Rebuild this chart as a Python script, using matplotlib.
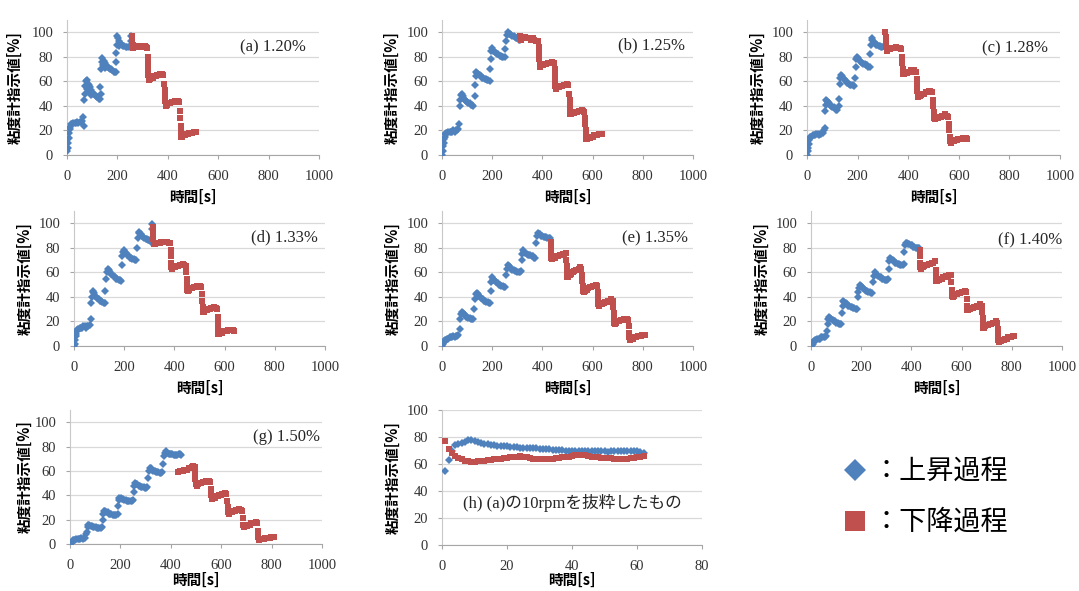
import matplotlib
matplotlib.use('Agg')
import matplotlib.pyplot as plt

# ---- data: (time [s], reading [%]) ----
a_up = [(0,3),(3,6),(5,10),(7,14),(9,18),(11,21),(13,23),(16,25),(20,25),(25,26),(30,26),(35,26),(40,27),(45,26),(50,27),(55,27),(60,28),(63,31),(66,24),
        (68,45),(70,50),(72,56),(75,60),(78,61),(80,54),(82,58),(86,57),(88,52),(90,55),(95,53),(96,49),(100,51),(105,50),(110,49),(115,48),(120,47),(125,46),(130,46),(132,55),(134,50),
        (136,70),(138,76),(140,79),(142,73),(145,77),(150,75),(150,71),(155,73),(160,72),(165,71),(170,70),(175,70),(180,69),(185,68),(190,68),(195,68),
        (193,76),(195,83),(198,90),(200,97),(203,95),(205,89),(207,93),(212,91),(217,90),(222,89),(228,89),(234,88),(240,88),(246,88),(250,89),(252,93),(255,97)]
a_dn = [(258,97),(259,93),(260,90),(262,87),(266,88),(272,89),(278,88),(284,88),(290,89),(296,88),(302,88),(308,89),(314,88),(318,87),
        (320,80),(321,75),(322,70),(323,65),(324,61),(328,62),(334,63),(340,63),(346,64),(352,64),(358,65),(364,65),(370,66),(376,66),(382,65),
        (386,58),(387,53),(388,48),(389,44),(392,40),(398,41),(404,42),(410,42),(416,43),(422,43),(428,44),(434,44),(440,44),(446,43),
        (449,36),(450,30),(451,24),(452,19),(453,15),(456,15),(462,16),(468,16),(474,17),(480,17),(486,18),(492,18),(498,18),(504,19),(510,19)]

b_up = [(0,0),(2,3),(4,7),(6,10),(8,13),(10,15),(12,17),(15,18),(20,18),(25,19),(30,19),(35,19),(40,19),(45,20),(50,19),(55,20),(60,20),(65,21),(68,25),
        (70,40),(72,45),(75,49),(78,50),(82,48),(86,46),(90,45),(95,44),(100,43),(105,42),(110,42),(115,41),(120,41),(125,40),(130,48),(132,57),
        (134,64),(136,68),(140,67),(145,66),(150,65),(155,64),(160,63),(165,63),(170,62),(175,62),(180,61),(185,61),(190,60),(193,70),(195,78),
        (197,85),(200,87),(205,85),(210,84),(215,83),(220,82),(225,82),(230,81),(235,81),(240,80),(245,80),(250,80),(252,86),(255,93),
        (258,98),(262,100),(266,99),(270,99),(275,98),(280,97),(285,97),(290,96),(295,95),(300,95),(305,94),(310,94)]
b_dn = [(312,97),(314,94),(318,95),(325,96),(332,96),(340,95),(347,95),(354,94),(361,95),(368,94),(375,93),(382,93),
        (386,88),(387,83),(388,78),(389,74),(392,72),(398,73),(404,73),(410,74),(416,74),(422,75),(428,75),(434,75),(440,76),(446,75),
        (449,70),(450,65),(451,60),(452,56),(455,54),(461,55),(467,55),(473,56),(479,56),(485,57),(491,57),(497,58),(503,57),
        (507,50),(508,45),(509,40),(510,36),(511,33),(514,33),(520,34),(526,34),(532,35),(538,35),(544,36),(550,36),(556,37),(562,36),(567,35),
        (570,30),(571,25),(572,20),(573,16),(574,13),(577,13),(583,14),(589,14),(595,15),(601,15),(607,16),(613,16),(619,16),(625,17),(631,17),(637,17)]

c_up = [(0,0),(2,3),(4,6),(6,9),(8,12),(10,14),(13,15),(17,15),(22,16),(27,16),(32,16),(37,17),(42,17),(47,16),(52,17),(57,17),(62,18),(66,20),(70,22),
        (72,36),(74,41),(77,45),(80,44),(84,43),(88,42),(92,41),(96,40),(100,39),(105,39),(110,38),(115,37),(120,37),(125,40),(128,46),
        (130,58),(132,63),(135,65),(140,64),(145,62),(150,61),(155,60),(160,59),(165,58),(170,57),(175,57),(180,57),(185,56),(190,63),
        (192,72),(195,78),(198,80),(203,79),(208,77),(213,76),(218,75),(223,74),(228,74),(233,73),(238,73),(243,72),(248,72),(250,82),
        (252,90),(255,95),(258,94),(263,92),(268,91),(273,90),(278,90),(283,89),(288,89),(293,88),(298,88),(303,89),(308,88)]
c_dn = [(310,100),(311,96),(312,92),(313,88),(315,85),(321,86),(327,86),(333,87),(339,87),(345,87),(351,88),(357,87),(363,87),(369,87),(373,86),
        (376,80),(377,75),(378,70),(379,66),(382,66),(388,67),(394,67),(400,68),(406,68),(412,69),(418,69),(424,69),(430,68),
        (434,62),(435,57),(436,52),(437,48),(440,47),(446,48),(452,49),(458,50),(464,50),(470,51),(476,51),(482,52),(488,52),(494,51),
        (498,45),(499,40),(500,35),(501,30),(504,29),(510,30),(516,30),(522,31),(528,31),(534,32),(540,32),(546,33),(552,32),(558,31),
        (562,25),(563,20),(564,15),(565,11),(568,10),(574,11),(580,11),(586,12),(592,12),(598,13),(604,13),(610,13),(616,14),(622,14),(628,14),(634,13)]

d_up = [(0,0),(2,2),(4,5),(6,8),(8,10),(10,12),(13,13),(17,14),(22,15),(27,15),(32,15),(37,16),(42,16),(47,15),(52,16),(57,16),(62,17),(66,22),
        (68,35),(71,40),(74,44),(77,45),(81,43),(85,41),(89,40),(93,39),(98,38),(103,37),(108,37),(113,36),(118,35),(122,35),(125,45),
        (128,55),(131,60),(134,63),(138,62),(143,60),(148,59),(153,58),(158,57),(163,56),(168,55),(173,55),(178,54),(183,54),(188,53),(190,66),
        (192,73),(195,77),(198,78),(203,77),(208,76),(213,74),(218,73),(223,72),(228,72),(233,71),(238,71),(243,70),(248,70),(252,80),
        (254,88),(257,92),(260,93),(265,91),(270,90),(275,89),(280,88),(285,87),(290,87),(295,86),(300,86),(305,85),(310,95),(312,99)]
d_dn = [(313,97),(314,92),(315,87),(317,83),(323,83),(329,84),(335,84),(341,84),(347,85),(353,85),(359,85),(365,85),(371,85),(377,84),(382,84),
        (385,78),(386,73),(387,68),(388,64),(391,63),(397,64),(403,64),(409,65),(415,65),(421,66),(427,66),(433,67),(439,66),(445,65),
        (448,60),(449,55),(450,50),(451,46),(454,45),(460,46),(466,47),(472,47),(478,48),(484,48),(490,49),(496,49),(502,49),(507,48),
        (510,42),(511,37),(512,32),(513,28),(516,28),(522,29),(528,29),(534,30),(540,30),(546,31),(552,31),(558,32),(564,31),(569,30),
        (572,24),(573,19),(574,14),(575,10),(578,10),(584,11),(590,11),(596,12),(602,12),(608,12),(614,13),(620,13),(626,13),(632,13),(638,12)]

e_up = [(0,0),(3,2),(6,3),(9,4),(12,5),(16,5),(20,6),(25,6),(30,7),(35,7),(40,7),(45,8),(50,7),(55,8),(60,8),(65,9),(70,14),
        (72,22),(75,26),(78,28),(82,27),(86,26),(90,25),(95,24),(100,24),(105,23),(110,23),(115,22),(120,22),(125,22),(128,30),
        (132,38),(135,42),(138,43),(142,42),(147,41),(152,40),(157,39),(162,38),(167,37),(172,37),(177,36),(182,36),(187,35),(192,35),(194,45),
        (196,52),(199,56),(202,55),(207,54),(212,53),(217,52),(222,51),(227,50),(232,50),(237,49),(242,49),(247,48),(252,48),(256,58),
        (258,63),(261,66),(265,65),(270,64),(275,63),(280,62),(285,62),(290,61),(295,61),(300,60),(305,60),(310,60),(315,61),(318,70),
        (320,75),(323,78),(327,77),(332,76),(337,75),(342,74),(347,74),(352,74),(357,73),(362,73),(367,72),(372,72),(376,84),
        (378,90),(381,92),(385,91),(390,91),(395,90),(400,90),(405,89),(410,89),(415,89),(420,88),(425,88),(430,88)]
e_dn = [(433,85),(434,80),(435,76),(436,72),(440,71),(446,72),(452,72),(458,73),(464,73),(470,74),(476,74),(482,75),(488,75),(493,76),
        (496,70),(497,65),(498,60),(499,56),(502,56),(508,58),(514,59),(520,60),(526,61),(532,62),(538,62),(544,63),(550,64),(555,63),
        (558,58),(559,53),(560,49),(561,45),(564,44),(570,45),(576,46),(582,47),(588,48),(594,48),(600,49),(606,49),(612,50),(618,49),
        (621,44),(622,39),(623,34),(626,33),(632,34),(638,34),(644,35),(650,36),(656,36),(662,37),(668,37),(674,38),(680,37),
        (683,32),(684,27),(685,22),(686,19),(689,18),(695,19),(701,20),(707,20),(713,21),(719,21),(725,22),(731,22),(737,22),(742,21),
        (745,16),(746,11),(747,7),(750,5),(756,6),(762,6),(768,7),(774,7),(780,8),(786,8),(792,8),(798,9),(804,9),(810,9)]

f_up = [(0,0),(3,1),(6,2),(9,3),(12,4),(16,5),(20,5),(25,6),(30,6),(35,6),(40,7),(45,7),(50,7),(55,7),(60,8),(64,12),
        (66,18),(69,22),(72,24),(76,23),(81,22),(86,21),(91,20),(96,20),(101,19),(106,19),(111,18),(116,18),(121,18),(124,27),
        (126,33),(129,37),(133,36),(138,35),(143,34),(148,33),(153,33),(158,32),(163,32),(168,31),(173,31),(178,30),(183,30),(186,40),
        (188,44),(191,47),(194,50),(199,49),(204,48),(209,47),(214,46),(219,45),(224,45),(229,44),(234,44),(239,43),(244,43),(248,52),
        (250,57),(253,60),(258,59),(263,58),(268,57),(273,56),(278,56),(283,55),(288,55),(293,54),(298,54),(303,54),(308,55),(310,63),
        (312,69),(315,72),(320,71),(325,70),(330,69),(335,68),(340,68),(345,67),(350,67),(355,66),(360,66),(365,66),(370,67),(372,77),
        (374,82),(377,84),(382,84),(387,83),(392,83),(397,82),(402,82),(407,81),(412,81),(417,80),(422,80),(427,80),(431,80)]
f_dn = [(433,78),(434,73),(435,68),(436,64),(440,63),(446,64),(452,65),(458,66),(464,66),(470,67),(476,67),(482,68),(488,68),(494,69),
        (497,62),(498,57),(499,53),(502,53),(508,54),(514,55),(520,55),(526,56),(532,56),(538,57),(544,57),(550,58),(556,58),
        (559,52),(560,46),(561,41),(564,40),(570,41),(576,42),(582,42),(588,43),(594,43),(600,44),(606,44),(612,45),(618,44),
        (621,38),(622,33),(623,29),(626,29),(632,30),(638,31),(644,31),(650,32),(656,32),(662,33),(668,33),(674,34),(680,33),
        (683,28),(684,23),(685,18),(686,15),(689,15),(695,16),(701,17),(707,17),(713,18),(719,18),(725,19),(731,19),(737,20),(742,19),
        (745,14),(746,9),(747,5),(750,3),(756,4),(762,5),(768,5),(774,6),(780,6),(786,7),(792,7),(798,7),(804,8),(810,8)]

g_up = [(0,0),(3,1),(6,2),(9,2),(12,3),(16,3),(20,3),(25,4),(30,4),(35,4),(40,4),(45,5),(50,4),(55,5),(60,5),(64,8),(68,10),
        (70,14),(73,16),(77,16),(82,15),(87,15),(92,14),(97,14),(102,14),(107,13),(112,13),(117,13),(122,13),(127,14),(129,20),
        (131,25),(134,27),(139,27),(144,26),(149,26),(154,25),(159,25),(164,25),(169,24),(174,24),(179,24),(184,24),(189,25),(191,31),
        (193,36),(196,38),(201,38),(206,37),(211,37),(216,36),(221,36),(226,35),(231,35),(236,35),(241,35),(246,35),(250,36),(252,43),
        (254,48),(257,50),(262,49),(267,49),(272,48),(277,48),(282,47),(287,47),(292,47),(297,46),(302,46),(307,47),(310,54),
        (313,60),(316,62),(321,62),(326,61),(331,60),(336,60),(341,59),(346,59),(351,59),(356,58),(361,58),(366,59),(370,66),
        (373,72),(376,75),(381,76),(386,75),(391,74),(396,74),(401,74),(406,74),(411,73),(416,73),(421,73),(426,73),(431,74),(436,74),(441,73)]
g_dn = [(430,59),(436,60),(442,60),(448,60),(454,61),(460,61),(466,61),(472,62),(478,62),(484,63),(490,64),(495,63),
        (497,58),(498,53),(499,49),(502,48),(508,49),(514,50),(520,50),(526,51),(532,51),(538,52),(544,52),(550,52),(556,51),
        (559,45),(560,40),(562,37),(568,38),(574,38),(580,39),(586,39),(592,40),(598,40),(604,41),(610,41),(616,42),(621,41),
        (624,35),(625,30),(626,26),(629,25),(635,26),(641,26),(647,27),(653,27),(659,28),(665,28),(671,29),(677,28),(682,27),
        (685,21),(686,16),(689,14),(695,15),(701,15),(707,16),(713,16),(719,17),(725,17),(731,17),(737,18),(742,17),
        (745,11),(746,6),(750,3),(756,4),(762,4),(768,4),(774,5),(780,5),(786,5),(792,5),(798,6),(804,6),(810,6)]

# (h): 10 rpm part of (a), one reading per second
h_t = list(range(1, 63))
h_up = [55,63,70,74,75,75.5,76,78,78,77,76,75.5,75,74.5,74,74,73.5,73.5,73,73,72.5,72.5,72.5,72,72,72,71.5,71.5,71.5,71,71,
        71,71,70.5,70.5,70.5,70.5,70,70,70,70,70,69.5,69.5,69.5,69.5,69.5,69.5,69.5,69.5,69,69.5,69.5,69.5,69.5,69.5,69.5,69.5,69.5,69.5,69,68]
h_dn = [77,71,68,66,64.5,63.5,62.5,62,61.5,61.5,62,62,62.5,63,63,63.5,64,64,64.5,64.5,65,65.5,65.5,66,65.5,65,64.5,64,63.5,63.5,63.5,
        64,64,64,64.5,64.5,65,65,65.5,66,66.5,67,67,66.5,66,65.5,65,65,64.5,64.5,64.5,64.5,64,64,64,64,64,64.5,64.5,65,65.5,66]

titles = ['(a) 1.20%', '(b) 1.25%', '(c) 1.28%', '(d) 1.33%', '(e) 1.35%', '(f) 1.40%', '(g) 1.50%']
series = [(a_up, a_dn), (b_up, b_dn), (c_up, c_dn), (d_up, d_dn), (e_up, e_dn), (f_up, f_dn), (g_up, g_dn)]

BLUE = '#4F81BD'
RED = '#C0504D'
JP = ['Noto Sans CJK JP', 'DejaVu Sans']
SERIF = ['Liberation Serif', 'Noto Sans CJK JP']

W, H = 1079, 591
fig = plt.figure(figsize=(W / 100, H / 100), dpi=100)

# pixel boxes: left, right, top, bottom ; ylabel x ; xlabel gap ; title right edge, title y
boxes = [(67, 319, 20, 155, 15, 34, 306, 47), (442, 693, 20, 155, 392, 34, 685, 45), (807, 1060, 20, 155, 758, 34, 1048, 48),
         (74, 325, 211, 346, 25, 34, 318, 237), (442, 693, 211, 346, 393, 34, 688, 238), (811, 1062, 211, 346, 762, 34, 1062, 240),
         (70, 322, 410, 544, 25, 28, 320, 437)]
box_h = (442, 702, 410, 545, 393, 27)


def add_ax(x0, x1, top, bottom):
    return fig.add_axes([x0 / W, 1 - bottom / H, (x1 - x0) / W, (bottom - top) / H])


def style(ax, xmax, xstep, ymax, x0, x1, top, bottom, lx, gap):
    ax.set_xlim(0, xmax)
    ax.set_ylim(0, ymax)
    ax.set_xticks(range(0, xmax + 1, xstep))
    ax.set_yticks(range(0, 101, 20))
    ax.grid(axis='y', color='#d9d9d9', lw=0.9)
    ax.set_axisbelow(True)
    for s in ['top', 'right']:
        ax.spines[s].set_visible(False)
    ax.spines['left'].set_color('#c8c8c8')
    ax.spines['bottom'].set_color('#a6a6a6')
    ax.tick_params(length=3, color='#a6a6a6', labelsize=10.5, labelcolor='#333333')
    ax.tick_params(axis='x', pad=8)
    ax.tick_params(axis='y', pad=7)
    for lab in ax.get_xticklabels() + ax.get_yticklabels():
        lab.set_family(SERIF)
    ax.set_ylabel('粘度計指示値[%]', family=JP, fontsize=10.5, fontweight='bold')
    ax.set_xlabel('時間[s]', family=JP, fontsize=10.5, fontweight='bold')
    w, h = x1 - x0, bottom - top
    ax.yaxis.set_label_coords((lx + 8 - x0) / w, 0.5)
    ax.xaxis.set_label_coords(0.5, -gap / h)


def scatter(ax, up, dn, tu=None, td=None):
    if tu is None:
        tu, up = zip(*up)
        td, dn = zip(*dn)
    ax.plot(tu, up, 'D', color=BLUE, ms=3.8, mew=0, zorder=3)
    ax.plot(td, dn, 's', color=RED, ms=5.0, mew=0, zorder=3)


for (up, dn), title, (x0, x1, top, bottom, lx, gap, tx, ty) in zip(series, titles, boxes):
    ax = add_ax(x0, x1, top, bottom)
    style(ax, 1000, 200, 110, x0, x1, top, bottom, lx, gap)
    scatter(ax, up, dn)
    ax.text((tx - x0) / (x1 - x0), 1 - (ty - top) / (bottom - top), title, transform=ax.transAxes,
            ha='right', va='center', fontsize=12, family=SERIF, color='#262626')

x0, x1, top, bottom, lx, gap = box_h
ax = add_ax(x0, x1, top, bottom)
style(ax, 80, 20, 100, x0, x1, top, bottom, lx, gap)
scatter(ax, h_up, h_dn, h_t, h_t)
ax.text(0.5, 0.31, '(h) (a)の10rpmを抜粋したもの', transform=ax.transAxes, ha='center', va='center',
        fontsize=12, family=SERIF, color='#262626')

# legend keys
ov = fig.add_axes([0, 0, 1, 1])
ov.axis('off')
ov.set_xlim(0, W)
ov.set_ylim(H, 0)
ov.plot([855], [470], 'D', color=BLUE, ms=11, mew=0)
ov.plot([855], [521], 's', color=RED, ms=14, mew=0)
ov.text(872, 471, '：上昇過程', fontsize=19.5, family=JP, va='center', color='black')
ov.text(872, 522, '：下降過程', fontsize=19.5, family=JP, va='center', color='black')

fig.savefig('out.png', dpi=100)
